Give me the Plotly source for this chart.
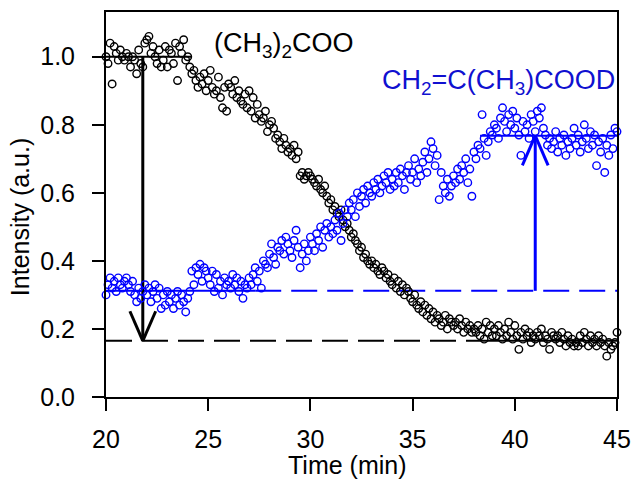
import numpy as np
import plotly.graph_objects as go

# ---------------- data ----------------
t_start, t_end, n_pts = 20.0, 45.0, 251
time_min = np.round(np.linspace(t_start, t_end, n_pts), 2)

acetone_oxide = [
    1.00, 0.98, 1.04, 0.92, 1.03, 1.01, 0.99, 1.02, 1.00, 0.99,
    1.01, 1.00, 0.97, 1.00, 0.99, 0.95, 1.02, 0.98, 0.97, 1.04,
    1.05, 1.06, 1.01, 1.03, 1.00, 0.98, 1.02, 0.97, 0.99, 1.03,
    0.97, 1.02, 1.01, 0.98, 1.04, 0.93, 1.03, 1.01, 1.05, 0.99,
    1.00, 0.97, 0.95, 0.96, 0.93, 0.91, 0.94, 0.92, 0.95, 0.90,
    0.93, 0.96, 0.91, 0.89, 0.90, 0.94, 0.88, 0.85, 0.91, 0.84,
    0.92, 0.91, 0.89, 0.93, 0.88, 0.90, 0.87, 0.86, 0.89, 0.85,
    0.90, 0.84, 0.88, 0.82, 0.86, 0.83, 0.81, 0.82, 0.84, 0.78,
    0.80, 0.81, 0.79, 0.76, 0.77, 0.75, 0.73, 0.76, 0.74, 0.72,
    0.73, 0.71, 0.74, 0.70, 0.72, 0.65, 0.66, 0.64, 0.65, 0.66,
    0.65, 0.64, 0.63, 0.62, 0.64, 0.61, 0.60, 0.62, 0.59, 0.57,
    0.58, 0.55, 0.56, 0.54, 0.53, 0.55, 0.52, 0.50, 0.51, 0.49,
    0.47, 0.48, 0.46, 0.45, 0.43, 0.44, 0.41, 0.42, 0.40, 0.39,
    0.40, 0.38, 0.39, 0.37, 0.36, 0.38, 0.37, 0.35, 0.36, 0.34,
    0.33, 0.35, 0.32, 0.34, 0.31, 0.33, 0.30, 0.32, 0.31, 0.29,
    0.28, 0.30, 0.27, 0.26, 0.28, 0.25, 0.27, 0.24, 0.26, 0.23,
    0.25, 0.22, 0.24, 0.23, 0.21, 0.22, 0.24, 0.20, 0.23, 0.22,
    0.21, 0.22, 0.20, 0.23, 0.21, 0.19, 0.22, 0.20, 0.21, 0.19,
    0.20, 0.19, 0.21, 0.18, 0.20, 0.17, 0.22, 0.19, 0.21, 0.18,
    0.20, 0.18, 0.21, 0.19, 0.17, 0.20, 0.18, 0.22, 0.19, 0.17,
    0.21, 0.18, 0.14, 0.19, 0.17, 0.20, 0.18, 0.19, 0.16, 0.18,
    0.17, 0.19, 0.18, 0.20, 0.16, 0.18, 0.17, 0.14, 0.19, 0.18,
    0.17, 0.18, 0.16, 0.19, 0.17, 0.15, 0.18, 0.16, 0.17, 0.15,
    0.16, 0.15, 0.18, 0.16, 0.19, 0.17, 0.15, 0.18, 0.16, 0.17,
    0.15, 0.18, 0.16, 0.17, 0.15, 0.12, 0.16, 0.14, 0.15, 0.16,
    0.19,
]

methacrylic_acid_d = [
    0.30, 0.33, 0.35, 0.32, 0.34, 0.31, 0.35, 0.33, 0.32, 0.34,
    0.35, 0.33, 0.31, 0.34, 0.30, 0.28, 0.32, 0.29, 0.31, 0.33,
    0.30, 0.32, 0.28, 0.31, 0.33, 0.29, 0.32, 0.26, 0.30, 0.27,
    0.31, 0.28, 0.30, 0.26, 0.29, 0.31, 0.27, 0.30, 0.28, 0.25,
    0.29, 0.31, 0.37, 0.33, 0.38, 0.36, 0.39, 0.34, 0.38, 0.37,
    0.35, 0.33, 0.37, 0.31, 0.36, 0.32, 0.34, 0.30, 0.35, 0.33,
    0.34, 0.32, 0.36, 0.33, 0.35, 0.31, 0.34, 0.29, 0.33, 0.32,
    0.35, 0.33, 0.36, 0.38, 0.34, 0.37, 0.32, 0.40, 0.39, 0.38,
    0.42, 0.45, 0.41, 0.39, 0.44, 0.43, 0.46, 0.42, 0.47, 0.45,
    0.43, 0.41, 0.46, 0.49, 0.44, 0.38, 0.42, 0.45, 0.40, 0.43,
    0.47, 0.45, 0.43, 0.48, 0.46, 0.50, 0.44, 0.49, 0.51, 0.47,
    0.50, 0.48, 0.52, 0.49, 0.54, 0.46, 0.51, 0.55, 0.53, 0.57,
    0.55, 0.58, 0.53, 0.60, 0.56, 0.59, 0.61, 0.57, 0.62, 0.60,
    0.59, 0.63, 0.61, 0.64, 0.60, 0.62, 0.65, 0.63, 0.66, 0.61,
    0.64, 0.62, 0.66, 0.63, 0.67, 0.65, 0.61, 0.66, 0.68, 0.64,
    0.66, 0.70, 0.63, 0.67, 0.65, 0.69, 0.72, 0.66, 0.70, 0.75,
    0.73, 0.68, 0.71, 0.58, 0.66, 0.62, 0.60, 0.64, 0.59, 0.62,
    0.65, 0.63, 0.67, 0.64, 0.68, 0.66, 0.70, 0.63, 0.67, 0.59,
    0.72, 0.70, 0.74, 0.73, 0.83, 0.76, 0.71, 0.75, 0.78, 0.77,
    0.80, 0.79, 0.76, 0.82, 0.85, 0.81, 0.78, 0.83, 0.80, 0.84,
    0.79, 0.82, 0.77, 0.71, 0.81, 0.78, 0.80, 0.76, 0.83, 0.81,
    0.78, 0.84, 0.82, 0.85, 0.79, 0.77, 0.74, 0.76, 0.73, 0.75,
    0.78, 0.72, 0.76, 0.74, 0.77, 0.71, 0.75, 0.73, 0.76, 0.79,
    0.74, 0.77, 0.72, 0.75, 0.80, 0.76, 0.73, 0.78, 0.74, 0.77,
    0.68, 0.75, 0.72, 0.76, 0.66, 0.74, 0.71, 0.77, 0.73, 0.79,
    0.78,
]

# reference levels and arrow positions (data units)
ace_level_start, ace_level_end = 1.0, 0.165
maa_level_start, maa_level_end = 0.312, 0.768
ace_arrow_t, maa_arrow_t = 21.8, 41.0
ace_flat_end_t, blue_solid_end_t, plateau_start_t = 24.2, 27.3, 38.3

x_ticks = [20, 25, 30, 35, 40, 45]
y_ticks = [0.0, 0.2, 0.4, 0.6, 0.8, 1.0]
y_tick_text = ["0.0", "0.2", "0.4", "0.6", "0.8", "1.0"]

BLACK = "#000000"
BLUE = "#0000ff"
FONT = "Liberation Sans, Arial, sans-serif"

fig = go.Figure()

def seg(x0, y0, x1, y1, color, width, dash="solid"):
    fig.add_shape(type="line", xref="x", yref="y", x0=x0, y0=y0, x1=x1, y1=y1,
                  line=dict(color=color, width=width, dash=dash), layer="below")

# guide lines
seg(t_start, ace_level_start, ace_flat_end_t, ace_level_start, BLACK, 2)
seg(t_start, ace_level_end, plateau_start_t, ace_level_end, BLACK, 2, "26px,10px")
seg(plateau_start_t, ace_level_end, t_end, ace_level_end, BLACK, 2)
seg(t_start, maa_level_start, blue_solid_end_t, maa_level_start, BLUE, 2)
seg(blue_solid_end_t, maa_level_start, t_end, maa_level_start, BLUE, 2, "26px,10px")
seg(plateau_start_t, maa_level_end, t_end, maa_level_end, BLUE, 2)

# arrows
head_dx, head_dy = 0.63, 0.087
seg(ace_arrow_t, ace_level_start, ace_arrow_t, ace_level_end, BLACK, 3)
seg(ace_arrow_t - head_dx, ace_level_end + head_dy, ace_arrow_t, ace_level_end, BLACK, 3)
seg(ace_arrow_t + head_dx, ace_level_end + head_dy, ace_arrow_t, ace_level_end, BLACK, 3)
seg(maa_arrow_t, maa_level_start, maa_arrow_t, maa_level_end, BLUE, 3)
seg(maa_arrow_t - head_dx, maa_level_end - head_dy, maa_arrow_t, maa_level_end, BLUE, 3)
seg(maa_arrow_t + head_dx, maa_level_end - head_dy, maa_arrow_t, maa_level_end, BLUE, 3)

fig.add_trace(go.Scatter(
    x=time_min, y=acetone_oxide, mode="markers", cliponaxis=False,
    marker=dict(symbol="circle-open", size=7.5, color=BLACK, line=dict(width=1.4, color=BLACK)),
    showlegend=False))
fig.add_trace(go.Scatter(
    x=time_min, y=methacrylic_acid_d, mode="markers", cliponaxis=False,
    marker=dict(symbol="circle-open", size=7.5, color=BLUE, line=dict(width=1.4, color=BLUE)),
    showlegend=False))

fig.add_annotation(x=25.2, y=1.035, xref="x", yref="y", xanchor="left", yanchor="middle",
                   text="(CH<sub>3</sub>)<sub>2</sub>COO", showarrow=False,
                   font=dict(family=FONT, size=27, color=BLACK))
fig.add_annotation(x=45, y=0.925, xref="x", yref="y", xanchor="right", yanchor="middle",
                   text="CH<sub>2</sub>=C(CH<sub>3</sub>)COOD", showarrow=False,
                   font=dict(family=FONT, size=27, color="#1010d0"))

# axis titles
fig.add_annotation(x=-0.168, y=0.4675, xref="paper", yref="paper", xanchor="center", yanchor="middle",
                   text="Intensity (a.u.)", textangle=-90, showarrow=False,
                   font=dict(family=FONT, size=25, color=BLACK))
fig.add_annotation(x=0.4726, y=-0.1766, xref="paper", yref="paper", xanchor="center", yanchor="middle",
                   text="Time (min)", showarrow=False, height=28, valign="middle",
                   font=dict(family=FONT, size=25, color=BLACK))

axis_common = dict(showgrid=False, zeroline=False, showline=True, linecolor=BLACK, linewidth=2,
                   mirror=True, ticks="outside", ticklen=12, tickwidth=2, tickcolor=BLACK,
                   automargin=False,
                   tickfont=dict(family=FONT, size=25, color=BLACK))
fig.update_xaxes(range=[t_start, t_end], tickvals=x_ticks, ticklabelstandoff=7,
                 ticklabeloverflow="allow", **axis_common)
fig.update_yaxes(range=[0, 1.1315], tickvals=y_ticks, ticktext=y_tick_text, ticklabelstandoff=12,
                 **axis_common)

fig.update_layout(width=634, height=480, margin=dict(l=106, r=17, t=12, b=83, autoexpand=False),
                  autosize=False, plot_bgcolor="white", paper_bgcolor="white")

fig.write_html("out.html",
               config={"responsive": False, "displayModeBar": False},
               post_script="document.body.style.margin='0';document.body.style.padding='0';"
                           "document.body.style.overflow='hidden';")
